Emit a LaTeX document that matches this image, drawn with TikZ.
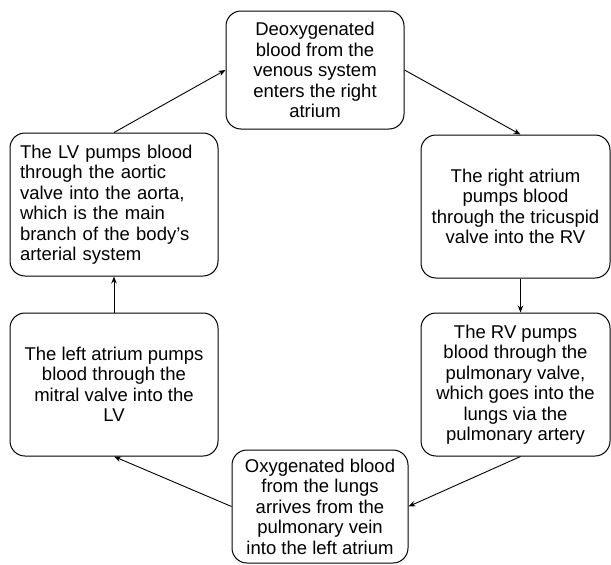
\documentclass[tikz,border=0pt]{standalone}
\usepackage{fontspec}
\setmainfont{Liberation Sans}
\usetikzlibrary{arrows.meta}
\begin{document}
\begin{tikzpicture}[x=1pt,y=-1pt,
  stepnode/.style={draw=black, line width=1pt, rounded corners=15pt,
    align=center, inner sep=0pt, font=\fontsize{18.5}{20.5}\selectfont},
  tallbox/.style={stepnode, minimum width=189pt, minimum height=143pt},
  sidebox/.style={stepnode, minimum width=208pt, minimum height=143pt},
  flow/.style={-{Stealth[length=7pt,width=5.5pt]}, line width=0.9pt}]
\useasboundingbox (0,0) rectangle (611,565);

% the six stages of the circulation loop
\node[stepnode, minimum width=178pt, minimum height=118pt] (A) at (315,70)
  {Deoxygenated\\blood from the\\venous system\\enters the right\\atrium};
\node[tallbox] (B) at (515.5,206.5)
  {The right atrium\\pumps blood\\through the tricuspid\\valve into the RV};
\node[tallbox] (C) at (515.5,384.5)
  {The RV pumps\\blood through the\\pulmonary valve,\\which goes into the\\lungs via the\\pulmonary artery};
\node[stepnode, minimum width=176pt, minimum height=113pt] (F) at (320,506.5)
  {Oxygenated blood\\from the lungs\\arrives from the\\pulmonary vein\\into the left atrium};
\node[sidebox] (E) at (114,384.5)
  {The left atrium pumps\\blood through the\\mitral valve into the\\LV};
\node[sidebox, text width=188pt, align=left] (D) at (114,204.5)
  {The LV pumps blood\\through the aortic\\valve into the aorta,\\which is the main\\branch of the body's\\arterial system};

% connectors
\draw[flow] (D.north) -- (A.west);
\draw[flow] (A.east) -- ([xshift=5pt]B.north);
\draw[flow] ([xshift=5pt]B.south) -- ([xshift=5pt]C.north);
\draw[flow] ([xshift=5pt]C.south) -- (F.east);
\draw[flow] (F.west) -- (E.south);
\draw[flow] (E.north) -- (D.south);
\end{tikzpicture}
\end{document}
